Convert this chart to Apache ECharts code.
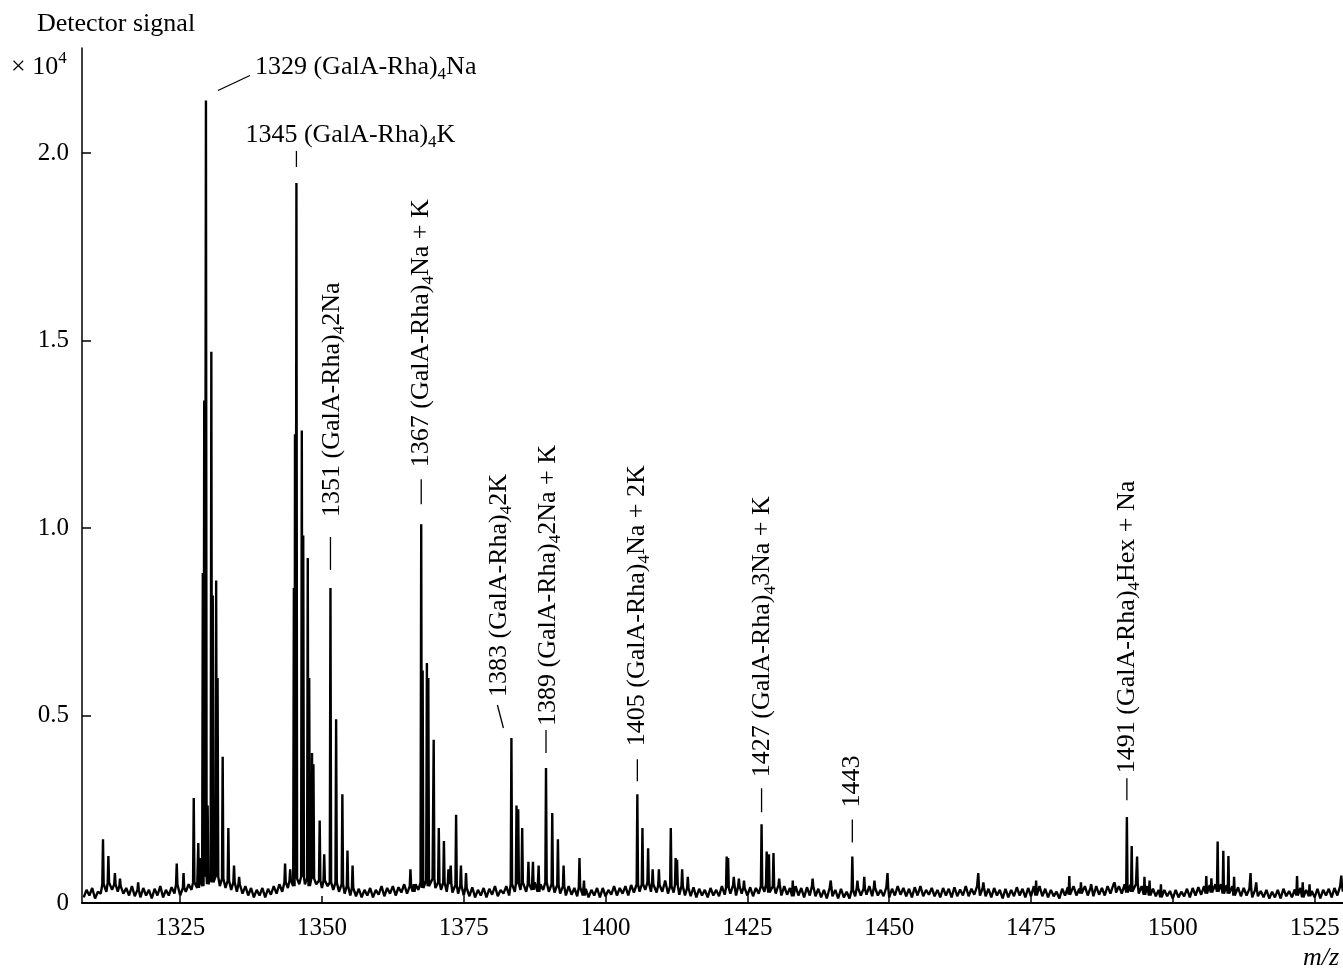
<!DOCTYPE html>
<html>
<head>
<meta charset="utf-8">
<style>
html,body{margin:0;padding:0;background:#fff;}
#chart{width:1343px;height:971px;}
</style>
<script src="https://cdn.jsdelivr.net/npm/echarts@6/dist/echarts.min.js"></script>
</head>
<body>
<div id="chart"></div>
<script>
// ---------------- DATA (intensity in units of 10^4) ----------------
const xTickValues = [1325, 1350, 1375, 1400, 1425, 1450, 1475, 1500, 1525];
const yTickValues = [0, 0.5, 1.0, 1.5, 2.0];
const yTickLabels = ['0', '0.5', '1.0', '1.5', '2.0'];

// baseline (noise) sampled every 0.5 m/z starting at 1308
const baselineStart = 1308;
const baselineStep = 0.5;
const baseline = [
  0.015,0.035,0.02,0.04,0.012,0.03,0.025,0.05,0.03,0.055,0.035,0.05,0.03,0.045,0.025,0.04,0.02,0.045,0.018,0.035,
  0.015,0.04,0.02,0.035,0.012,0.038,0.02,0.045,0.015,0.035,0.02,0.042,0.025,0.05,0.02,0.04,0.03,0.05,0.035,0.055,
  0.04,0.06,0.045,0.07,0.05,0.065,0.055,0.07,0.045,0.065,0.04,0.06,0.035,0.055,0.03,0.05,0.025,0.045,0.02,0.04,
  0.015,0.035,0.02,0.04,0.015,0.038,0.022,0.045,0.025,0.05,0.03,0.055,0.04,0.06,0.045,0.065,0.05,0.07,0.05,0.065,
  0.045,0.065,0.05,0.06,0.04,0.06,0.045,0.055,0.035,0.055,0.03,0.05,0.025,0.045,0.02,0.04,0.018,0.038,0.015,0.035,
  0.02,0.04,0.015,0.035,0.022,0.045,0.018,0.04,0.025,0.045,0.02,0.042,0.028,0.05,0.025,0.045,0.03,0.05,0.035,0.055,
  0.04,0.06,0.045,0.065,0.04,0.055,0.035,0.055,0.03,0.05,0.028,0.048,0.025,0.045,0.02,0.04,0.018,0.042,0.015,0.035,
  0.02,0.04,0.015,0.038,0.022,0.045,0.018,0.035,0.025,0.045,0.02,0.05,0.03,0.05,0.035,0.055,0.03,0.05,0.035,0.055,
  0.03,0.05,0.035,0.055,0.03,0.05,0.028,0.048,0.025,0.045,0.02,0.045,0.022,0.04,0.018,0.042,0.02,0.038,0.015,0.035,
  0.02,0.04,0.015,0.04,0.018,0.035,0.022,0.045,0.02,0.04,0.025,0.045,0.02,0.048,0.028,0.05,0.03,0.05,0.035,0.055,
  0.03,0.05,0.028,0.048,0.03,0.052,0.025,0.045,0.028,0.048,0.022,0.045,0.02,0.04,0.018,0.042,0.015,0.038,0.02,0.035,
  0.015,0.04,0.02,0.035,0.018,0.045,0.022,0.04,0.025,0.048,0.02,0.045,0.025,0.04,0.02,0.042,0.018,0.04,0.025,0.045,
  0.03,0.05,0.028,0.045,0.025,0.048,0.02,0.045,0.022,0.04,0.018,0.045,0.02,0.04,0.015,0.042,0.02,0.045,0.018,0.038,
  0.015,0.035,0.012,0.04,0.018,0.035,0.012,0.038,0.015,0.03,0.012,0.035,0.018,0.04,0.02,0.038,0.022,0.045,0.018,0.04,
  0.02,0.035,0.018,0.042,0.015,0.038,0.02,0.045,0.022,0.04,0.018,0.038,0.015,0.042,0.02,0.045,0.018,0.035,0.022,0.04,
  0.018,0.035,0.015,0.04,0.02,0.038,0.015,0.042,0.018,0.036,0.02,0.045,0.018,0.038,0.022,0.045,0.02,0.04,0.018,0.038,
  0.015,0.04,0.02,0.035,0.012,0.038,0.015,0.035,0.018,0.042,0.02,0.038,0.015,0.04,0.018,0.045,0.02,0.045,0.018,0.038,
  0.015,0.035,0.018,0.03,0.012,0.038,0.02,0.042,0.022,0.045,0.02,0.038,0.025,0.045,0.02,0.04,0.018,0.045,0.022,0.04,
  0.02,0.045,0.025,0.048,0.028,0.045,0.025,0.05,0.028,0.048,0.03,0.05,0.025,0.045,0.022,0.045,0.02,0.038,0.018,0.035,
  0.015,0.035,0.018,0.032,0.012,0.035,0.015,0.03,0.018,0.038,0.015,0.04,0.02,0.042,0.022,0.045,0.025,0.048,0.028,0.05,
  0.03,0.05,0.025,0.048,0.025,0.045,0.02,0.042,0.018,0.04,0.02,0.038,0.015,0.035,0.018,0.032,0.015,0.035,0.012,0.03,
  0.015,0.035,0.012,0.038,0.018,0.032,0.015,0.036,0.02,0.04,0.015,0.035,0.018,0.032,0.015,0.038,0.012,0.035,0.02,0.038,
  0.015,0.04,0.02,0.045,0.03
];

// peaks: [m/z, intensity]
const peaks = [
  [1311.4,0.17],[1312.35,0.125],[1313.5,0.08],[1314.4,0.065],[1317.6,0.055],
  [1324.4,0.105],[1325.6,0.08],[1327.4,0.28],[1328.2,0.16],[1328.5,0.12],
  [1329.0,0.88],[1329.25,1.34],[1329.55,2.14],[1329.85,0.26],[1330.5,1.47],[1330.75,0.82],
  [1331.35,0.86],[1331.6,0.6],[1332.5,0.39],[1333.5,0.2],[1334.5,0.1],[1335.4,0.07],
  [1343.5,0.105],[1344.4,0.09],[1345.05,0.84],[1345.25,1.25],[1345.5,1.92],
  [1346.45,1.26],[1346.7,0.98],[1347.5,0.92],[1347.75,0.6],[1348.25,0.4],[1348.5,0.37],
  [1349.6,0.22],[1350.4,0.13],[1351.5,0.84],[1352.5,0.49],[1353.6,0.29],[1354.5,0.14],[1355.4,0.1],
  [1365.6,0.09],[1366.2,0.05],[1367.5,1.01],[1367.75,0.62],[1368.5,0.64],[1368.75,0.6],
  [1369.7,0.435],[1370.6,0.2],[1371.5,0.165],[1372.3,0.09],[1372.7,0.1],[1373.65,0.235],[1374.5,0.1],[1375.4,0.08],
  [1383.4,0.44],[1384.3,0.26],[1384.6,0.25],[1385.3,0.2],[1386.4,0.11],[1387.2,0.11],[1388.2,0.1],
  [1389.5,0.36],[1390.6,0.24],[1391.6,0.17],[1392.6,0.1],[1395.4,0.12],[1396.2,0.06],
  [1405.6,0.29],[1406.5,0.2],[1407.5,0.146],[1408.3,0.09],[1409.4,0.09],[1410.5,0.06],
  [1411.5,0.2],[1412.35,0.12],[1412.6,0.115],[1413.5,0.09],[1414.5,0.07],
  [1421.35,0.124],[1421.6,0.12],[1422.6,0.07],[1423.5,0.065],[1424.4,0.06],
  [1427.5,0.21],[1428.4,0.137],[1428.8,0.13],[1429.6,0.133],[1430.6,0.065],
  [1433.0,0.06],[1436.5,0.065],[1439.7,0.06],
  [1443.5,0.124],[1444.4,0.06],[1445.6,0.07],[1447.4,0.06],
  [1449.7,0.08],[1465.7,0.08],[1466.6,0.055],[1475.9,0.06],[1481.75,0.072],[1483.8,0.055],[1485.6,0.05],[1489.7,0.055],
  [1491.9,0.229],[1492.75,0.152],[1493.7,0.124],[1495.0,0.07],[1495.9,0.06],[1497.9,0.05],
  [1505.9,0.072],[1506.8,0.066],[1507.9,0.164],[1508.9,0.139],[1509.8,0.125],[1510.8,0.07],
  [1513.7,0.08],[1514.7,0.055],[1521.9,0.072],[1522.9,0.055],[1524.1,0.05],[1529.7,0.073]
];

// annotated peaks
const annMz = [1329.55, 1345.5, 1351.5, 1367.5, 1383.4, 1389.5, 1405.6, 1427.5, 1443.5, 1491.9];
const annText = [
  '1329 (GalA-Rha){s|4}Na',
  '1345 (GalA-Rha){s|4}K',
  '1351 (GalA-Rha){s|4}2Na',
  '1367 (GalA-Rha){s|4}Na + K',
  '1383 (GalA-Rha){s|4}2K',
  '1389 (GalA-Rha){s|4}2Na + K',
  '1405 (GalA-Rha){s|4}Na + 2K',
  '1427 (GalA-Rha){s|4}3Na + K',
  '1443',
  '1491 (GalA-Rha){s|4}Hex + Na'
];

// ---------------- LAYOUT / STYLE (pixel offsets from each annotated peak top) ----------------
const annLayout = [
  {kind:'h', l:[12,-10,44,-25], tx:49, ty:-33},
  {kind:'h', l:[0,-16,0,-32], tx:-51, ty:-48},
  {kind:'v', l:[0,-18,0,-51], tx:2, ty:-71},
  {kind:'v', l:[0,-20,0,-45], tx:0, ty:-57},
  {kind:'v', l:[-8,-10,-14,-33], tx:-12, ty:-41},
  {kind:'v', l:[0,-15,0,-38], tx:2, ty:-42},
  {kind:'v', l:[0,-13,0,-35], tx:0, ty:-48},
  {kind:'v', l:[0,-12,0,-36], tx:1, ty:-47},
  {kind:'v', l:[0,-14,0,-37], tx:0, ty:-49},
  {kind:'v', l:[0,-17,0,-39], tx:0, ty:-44}
];

const FONT = 'Liberation Serif';

// build spectrum line from baseline + peaks
function baseAt(m) {
  let i = Math.round((m - baselineStart) / baselineStep);
  i = Math.max(0, Math.min(baseline.length - 1, i));
  return baseline[i];
}
const spectrum = [];
baseline.forEach((v, i) => {
  const m = baselineStart + i * baselineStep;
  if (!peaks.some(p => Math.abs(p[0] - m) < 0.2)) spectrum.push([m, v]);
});
peaks.forEach(p => {
  const b = baseAt(p[0]);
  spectrum.push([p[0] - 0.12, b], [p[0], p[1]], [p[0] + 0.12, b]);
});
spectrum.sort((a, b) => a[0] - b[0]);

function peakLevel(m) {
  const p = peaks.find(q => Math.abs(q[0] - m) < 0.01);
  return p ? p[1] : 0;
}
const annData = annMz.map((m, i) => [m, peakLevel(m), i]);

const richSub = {
  s: {fontFamily: FONT, fontSize: 17, color: '#000', verticalAlign: 'bottom', lineHeight: 32}
};

const chart = echarts.init(document.getElementById('chart'), null, {renderer: 'canvas'});
chart.setOption({
  animation: false,
  backgroundColor: '#fff',
  grid: {left: 82, right: 0, top: 48, bottom: 68, containLabel: false, outerBoundsMode: 'none'},
  xAxis: {
    type: 'value', min: 1307.7, max: 1530,
    axisLine: {show: true, onZero: false, lineStyle: {color: '#000', width: 2}},
    axisTick: {show: true, inside: true, length: 7, customValues: xTickValues, lineStyle: {color: '#000', width: 1.5}},
    axisLabel: {show: true, customValues: xTickValues, color: '#000', fontFamily: FONT, fontSize: 25, margin: 13,
      formatter: v => String(Math.round(v))},
    splitLine: {show: false}
  },
  yAxis: {
    type: 'value', min: 0, max: 2.28,
    axisLine: {show: true, lineStyle: {color: '#000', width: 1.5}},
    axisTick: {show: true, inside: true, length: 9, customValues: yTickValues, lineStyle: {color: '#000', width: 1.5}},
    axisLabel: {
      show: true, customValues: yTickValues, color: '#000', fontFamily: FONT, fontSize: 25, margin: 13,
      formatter: v => {
        const k = yTickValues.findIndex(t => Math.abs(t - v) < 1e-6);
        return k >= 0 ? yTickLabels[k] : '';
      }
    },
    splitLine: {show: false}
  },
  graphic: [
    {type: 'text', left: 37, top: 11, style: {text: 'Detector signal', fontFamily: FONT, fontSize: 26, fill: '#000'}},
    {type: 'text', left: 11, top: 50, style: {
      text: '× 10{p|4}', fontFamily: FONT, fontSize: 26, fill: '#000',
      rich: {p: {fontFamily: FONT, fontSize: 17, verticalAlign: 'top', lineHeight: 34, fill: '#000'}}
    }},
    {type: 'text', left: 1303, top: 945, style: {text: 'm/z', fontFamily: FONT, fontSize: 26, fontStyle: 'italic', fill: '#000'}}
  ],
  series: [
    {
      type: 'line', data: spectrum, symbol: 'none', showSymbol: false,
      lineStyle: {color: '#000', width: 2.4}, silent: true, z: 2
    },
    {
      type: 'custom', data: annData, silent: true, clip: false, z: 3,
      encode: {x: 0, y: 1},
      renderItem: function (params, api) {
        const i = api.value(2);
        const lay = annLayout[i];
        const p = api.coord([api.value(0), api.value(1)]);
        const line = {
          type: 'line',
          shape: {x1: p[0] + lay.l[0], y1: p[1] + lay.l[1], x2: p[0] + lay.l[2], y2: p[1] + lay.l[3]},
          style: {stroke: '#000', lineWidth: 1.3}
        };
        const text = {
          type: 'text', x: p[0] + lay.tx, y: p[1] + lay.ty,
          rotation: lay.kind === 'v' ? Math.PI / 2 : 0,
          style: {text: annText[i], fontFamily: FONT, fontSize: 26, fill: '#000',
            align: 'left', verticalAlign: 'middle', rich: richSub}
        };
        return {type: 'group', children: [line, text]};
      }
    }
  ]
});
</script>
</body>
</html>
